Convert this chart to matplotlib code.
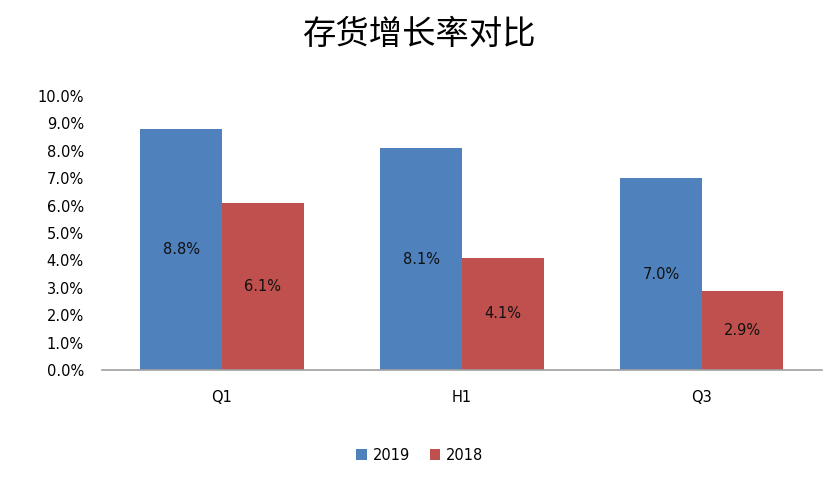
import matplotlib
matplotlib.use("Agg")
import matplotlib.pyplot as plt
import numpy as np

categories = ["Q1", "H1", "Q3"]
series_names = ["2019", "2018"]
values_2019 = [8.8, 8.1, 7.0]
values_2018 = [6.1, 4.1, 2.9]
yticks = [0, 1, 2, 3, 4, 5, 6, 7, 8, 9, 10]

plt.rcParams['font.family'] = ['DejaVu Sans', 'Noto Sans CJK SC']
fig = plt.figure(figsize=(8.4, 4.8), dpi=100)
ax = fig.add_axes([0.1214, 0.229, 0.857, 0.571])

x = np.arange(len(categories))
w = 0.34
colors = ["#4F81BD", "#C0504D"]
for i, (vals, name) in enumerate(zip([values_2019, values_2018], series_names)):
    xs = x + (i - 0.5) * w
    ax.bar(xs, vals, width=w, color=colors[i], label=name)
    for xx, v in zip(xs, vals):
        ax.text(xx, v / 2, f"{v:.1f}%", ha="center", va="center", fontsize=10.5,
                color="#111111", family="DejaVu Sans")

ax.set_xlim(-0.5, 2.5)
ax.set_ylim(0, 10)
ax.set_yticks(yticks)
ax.set_yticklabels([f"{t:.1f}%" for t in yticks], fontsize=10.5, family="DejaVu Sans")
ax.set_xticks(x)
ax.set_xticklabels(categories, fontsize=10.5, family="DejaVu Sans")
ax.tick_params(axis='y', length=0, pad=13)
ax.tick_params(axis='x', length=0, pad=14)
for s in ["top", "right", "left"]:
    ax.spines[s].set_visible(False)
ax.spines["bottom"].set_color("#A0A0A0")
ax.spines["bottom"].set_linewidth(1.2)

fig.text(0.5, 0.928, "存货增长率对比", ha="center", va="center", fontsize=24,
         family=["Noto Sans CJK SC"], weight="medium")
fig.legend(loc="center", bbox_to_anchor=(0.5, 0.052), ncol=2, frameon=False,
           prop={"family": "DejaVu Sans", "size": 10.5},
           handlelength=0.7, handleheight=0.7, handletextpad=0.4,
           columnspacing=1.4)

fig.savefig("out.png", dpi=100)
